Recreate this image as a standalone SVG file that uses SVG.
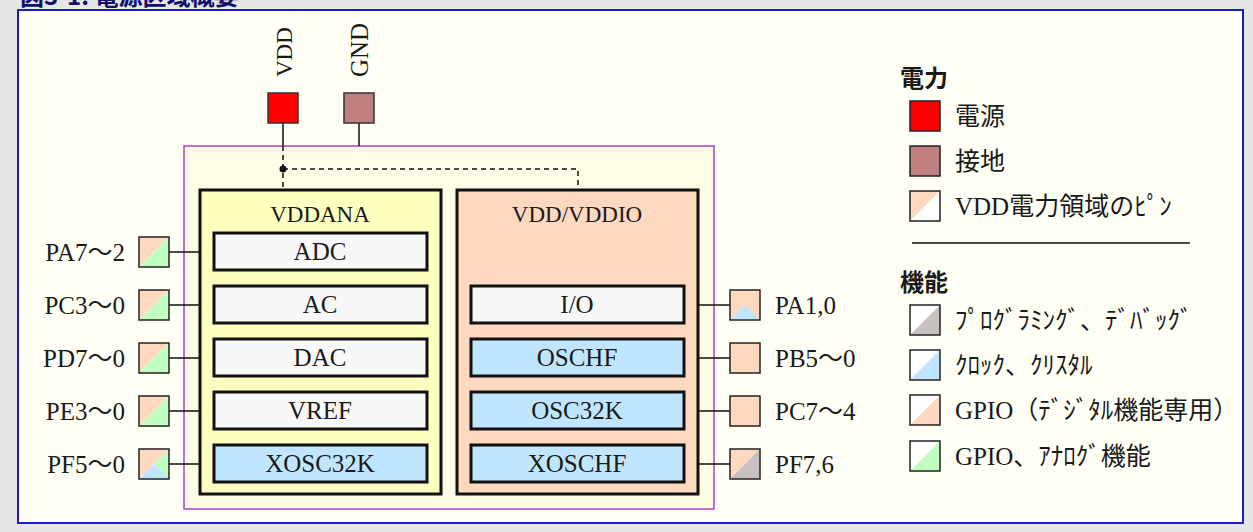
<svg xmlns="http://www.w3.org/2000/svg" width="1253" height="532" viewBox="0 0 1253 532">
<style>
.t{font-family:"Liberation Serif","Noto Sans CJK JP",serif;font-size:25px;fill:#1a1a1a}
.s{font-size:23px}
.c{text-anchor:middle}
.e{text-anchor:end}
.j{font-family:"Liberation Serif","Noto Sans CJK JP",serif;font-size:25px;fill:#1a1a1a}
.h{font-family:"Noto Sans CJK JP","Noto Sans",sans-serif;font-size:24px;font-weight:bold;fill:#1a1a1a}
.box{stroke:#111;stroke-width:3}
.ib{fill:#f8f8f8;stroke:#111;stroke-width:3}
.ic{fill:#c0e6ff;stroke:#111;stroke-width:3}
.pin{fill:none;stroke:#222;stroke-width:1.5}
.ln{stroke:#111;stroke-width:1.5;fill:none}
.dash{stroke:#111;stroke-width:1.5;fill:none;stroke-dasharray:5 4}
</style>
<rect x="0" y="0" width="1253" height="532" fill="#e6e6e6"/>
<text x="20" y="5" font-family="Noto Sans CJK JP,sans-serif" font-size="24" font-weight="bold" fill="#10106a">図3-1. 電源区域概要</text>
<rect x="18" y="10" width="1225" height="513" fill="#fffff5" stroke="#1a1ad0" stroke-width="2"/>

<g id="domain">
<rect x="184" y="146" width="530" height="363" fill="#fffde6" stroke="#b040c0" stroke-width="1.5"/>
</g>

<g id="connectors">
<line x1="283" y1="123" x2="283" y2="146" class="ln"/>
<line x1="359" y1="123" x2="359" y2="146" class="ln"/>
<path d="M283 146 V190 M283 169 H578 V190" class="dash"/>
<circle cx="283" cy="169" r="3.5" fill="#111"/>
<path d="M169 252 H200 M169 305 H200 M169 358 H200 M169 411 H200 M169 464 H200" class="ln"/>
<path d="M698 305 H730 M698 358 H730 M698 411 H730 M698 464 H730" class="ln"/>
</g>

<g id="vdd">
<rect x="268" y="93" width="30" height="30" fill="#ff0000" stroke="#333" stroke-width="1.5"/>
<text class="t s" transform="translate(292,77) rotate(-90)">VDD</text>
</g>
<g id="gnd">
<rect x="344" y="93" width="30" height="30" fill="#c08080" stroke="#333" stroke-width="1.5"/>
<text class="t" transform="translate(368,77) rotate(-90)">GND</text>
</g>

<g id="vddana">
<rect x="200" y="190" width="241" height="304" fill="#ffffc0" class="box"/>
<text class="t s c" x="320" y="222">VDDANA</text>
</g>
<g id="adc"><rect x="214" y="233" width="213" height="37" class="ib"/><text class="t c" x="320" y="260">ADC</text></g>
<g id="ac"><rect x="214" y="286" width="213" height="37" class="ib"/><text class="t c" x="320" y="313">AC</text></g>
<g id="dac"><rect x="214" y="339" width="213" height="37" class="ib"/><text class="t c" x="320" y="366">DAC</text></g>
<g id="vref"><rect x="214" y="392" width="213" height="37" class="ib"/><text class="t c" x="320" y="419">VREF</text></g>
<g id="xosc32k"><rect x="214" y="445" width="213" height="37" class="ic"/><text class="t c" x="320" y="472">XOSC32K</text></g>

<g id="vddio">
<rect x="457" y="190" width="241" height="304" fill="#ffd8c0" class="box"/>
<text class="t s c" x="577" y="222">VDD/VDDIO</text>
</g>
<g id="io"><rect x="471" y="286" width="213" height="37" class="ib"/><text class="t c" x="577" y="313">I/O</text></g>
<g id="oschf"><rect x="471" y="339" width="213" height="37" class="ic"/><text class="t c" x="577" y="366">OSCHF</text></g>
<g id="osc32k"><rect x="471" y="392" width="213" height="37" class="ic"/><text class="t c" x="577" y="419">OSC32K</text></g>
<g id="xoschf"><rect x="471" y="445" width="213" height="37" class="ic"/><text class="t c" x="577" y="472">XOSCHF</text></g>

<g id="pin-pa7">
<path d="M139 237 H169 L139 267 Z" fill="#ffd8c0"/><path d="M169 237 V267 H139 Z" fill="#c0ffc0"/>
<rect x="139" y="237" width="30" height="30" class="pin"/>
<text class="t e" x="125" y="261">PA7～2</text>
</g>
<g id="pin-pc3">
<path d="M139 290 H169 L139 320 Z" fill="#ffd8c0"/><path d="M169 290 V320 H139 Z" fill="#c0ffc0"/>
<rect x="139" y="290" width="30" height="30" class="pin"/>
<text class="t e" x="125" y="314">PC3～0</text>
</g>
<g id="pin-pd7">
<path d="M139 343 H169 L139 373 Z" fill="#ffd8c0"/><path d="M169 343 V373 H139 Z" fill="#c0ffc0"/>
<rect x="139" y="343" width="30" height="30" class="pin"/>
<text class="t e" x="125" y="367">PD7～0</text>
</g>
<g id="pin-pe3">
<path d="M139 396 H169 L139 426 Z" fill="#ffd8c0"/><path d="M169 396 V426 H139 Z" fill="#c0ffc0"/>
<rect x="139" y="396" width="30" height="30" class="pin"/>
<text class="t e" x="125" y="420">PE3～0</text>
</g>
<g id="pin-pf5">
<path d="M139 449 H169 L139 479 Z" fill="#ffd8c0"/><path d="M169 449 V479 L154 464 Z" fill="#c0ffc0"/><path d="M139 479 H169 L154 464 Z" fill="#c0e6ff"/>
<rect x="139" y="449" width="30" height="30" class="pin"/>
<text class="t e" x="125" y="473">PF5～0</text>
</g>

<g id="pin-pa1">
<rect x="730" y="290" width="30" height="30" fill="#ffd8c0"/><path d="M730 320 H760 L745 305 Z" fill="#c0e6ff"/>
<rect x="730" y="290" width="30" height="30" class="pin"/>
<text class="t" x="775" y="314">PA1,0</text>
</g>
<g id="pin-pb5">
<rect x="730" y="343" width="30" height="30" fill="#ffd8c0"/>
<rect x="730" y="343" width="30" height="30" class="pin"/>
<text class="t" x="775" y="367">PB5～0</text>
</g>
<g id="pin-pc7">
<rect x="730" y="396" width="30" height="30" fill="#ffd8c0"/>
<rect x="730" y="396" width="30" height="30" class="pin"/>
<text class="t" x="775" y="420">PC7～4</text>
</g>
<g id="pin-pf7">
<path d="M730 449 H760 L730 479 Z" fill="#ffd8c0"/><path d="M760 449 V479 H730 Z" fill="#c8c0c0"/>
<rect x="730" y="449" width="30" height="30" class="pin"/>
<text class="t" x="775" y="473">PF7,6</text>
</g>

<g id="legend">
<text class="h" x="900" y="87">電力</text>
<rect x="910" y="101" width="30" height="30" fill="#ff0000" stroke="#222" stroke-width="1.5"/>
<text class="j" x="955" y="125">電源</text>
<rect x="910" y="146" width="30" height="30" fill="#c08080" stroke="#222" stroke-width="1.5"/>
<text class="j" x="955" y="170">接地</text>
<path d="M910 191 H940 L910 221 Z" fill="#ffd8c0"/><path d="M940 191 V221 H910 Z" fill="#ffffff"/>
<rect x="910" y="191" width="30" height="30" class="pin"/>
<text class="j" x="955" y="215">VDD電力領域のﾋﾟﾝ</text>
<line x1="912" y1="243" x2="1190" y2="243" stroke="#111" stroke-width="1.5"/>
<text class="h" x="900" y="291">機能</text>
<path d="M910 305 H940 L910 335 Z" fill="#ffffff"/><path d="M940 305 V335 H910 Z" fill="#c8c0c0"/>
<rect x="910" y="305" width="30" height="30" class="pin"/>
<text class="j" x="955" y="329">ﾌﾟﾛｸﾞﾗﾐﾝｸﾞ、ﾃﾞﾊﾞｯｸﾞ</text>
<path d="M910 350 H940 L910 380 Z" fill="#ffffff"/><path d="M940 350 V380 H910 Z" fill="#c0e6ff"/>
<rect x="910" y="350" width="30" height="30" class="pin"/>
<text class="j" x="955" y="374">ｸﾛｯｸ、ｸﾘｽﾀﾙ</text>
<path d="M910 395 H940 L910 425 Z" fill="#ffffff"/><path d="M940 395 V425 H910 Z" fill="#ffd8c0"/>
<rect x="910" y="395" width="30" height="30" class="pin"/>
<text class="j" x="955" y="419">GPIO（ﾃﾞｼﾞﾀﾙ機能専用）</text>
<path d="M910 441 H940 L910 471 Z" fill="#ffffff"/><path d="M940 441 V471 H910 Z" fill="#c0ffc0"/>
<rect x="910" y="441" width="30" height="30" class="pin"/>
<text class="j" x="955" y="465">GPIO、ｱﾅﾛｸﾞ機能</text>
</g>
</svg>
